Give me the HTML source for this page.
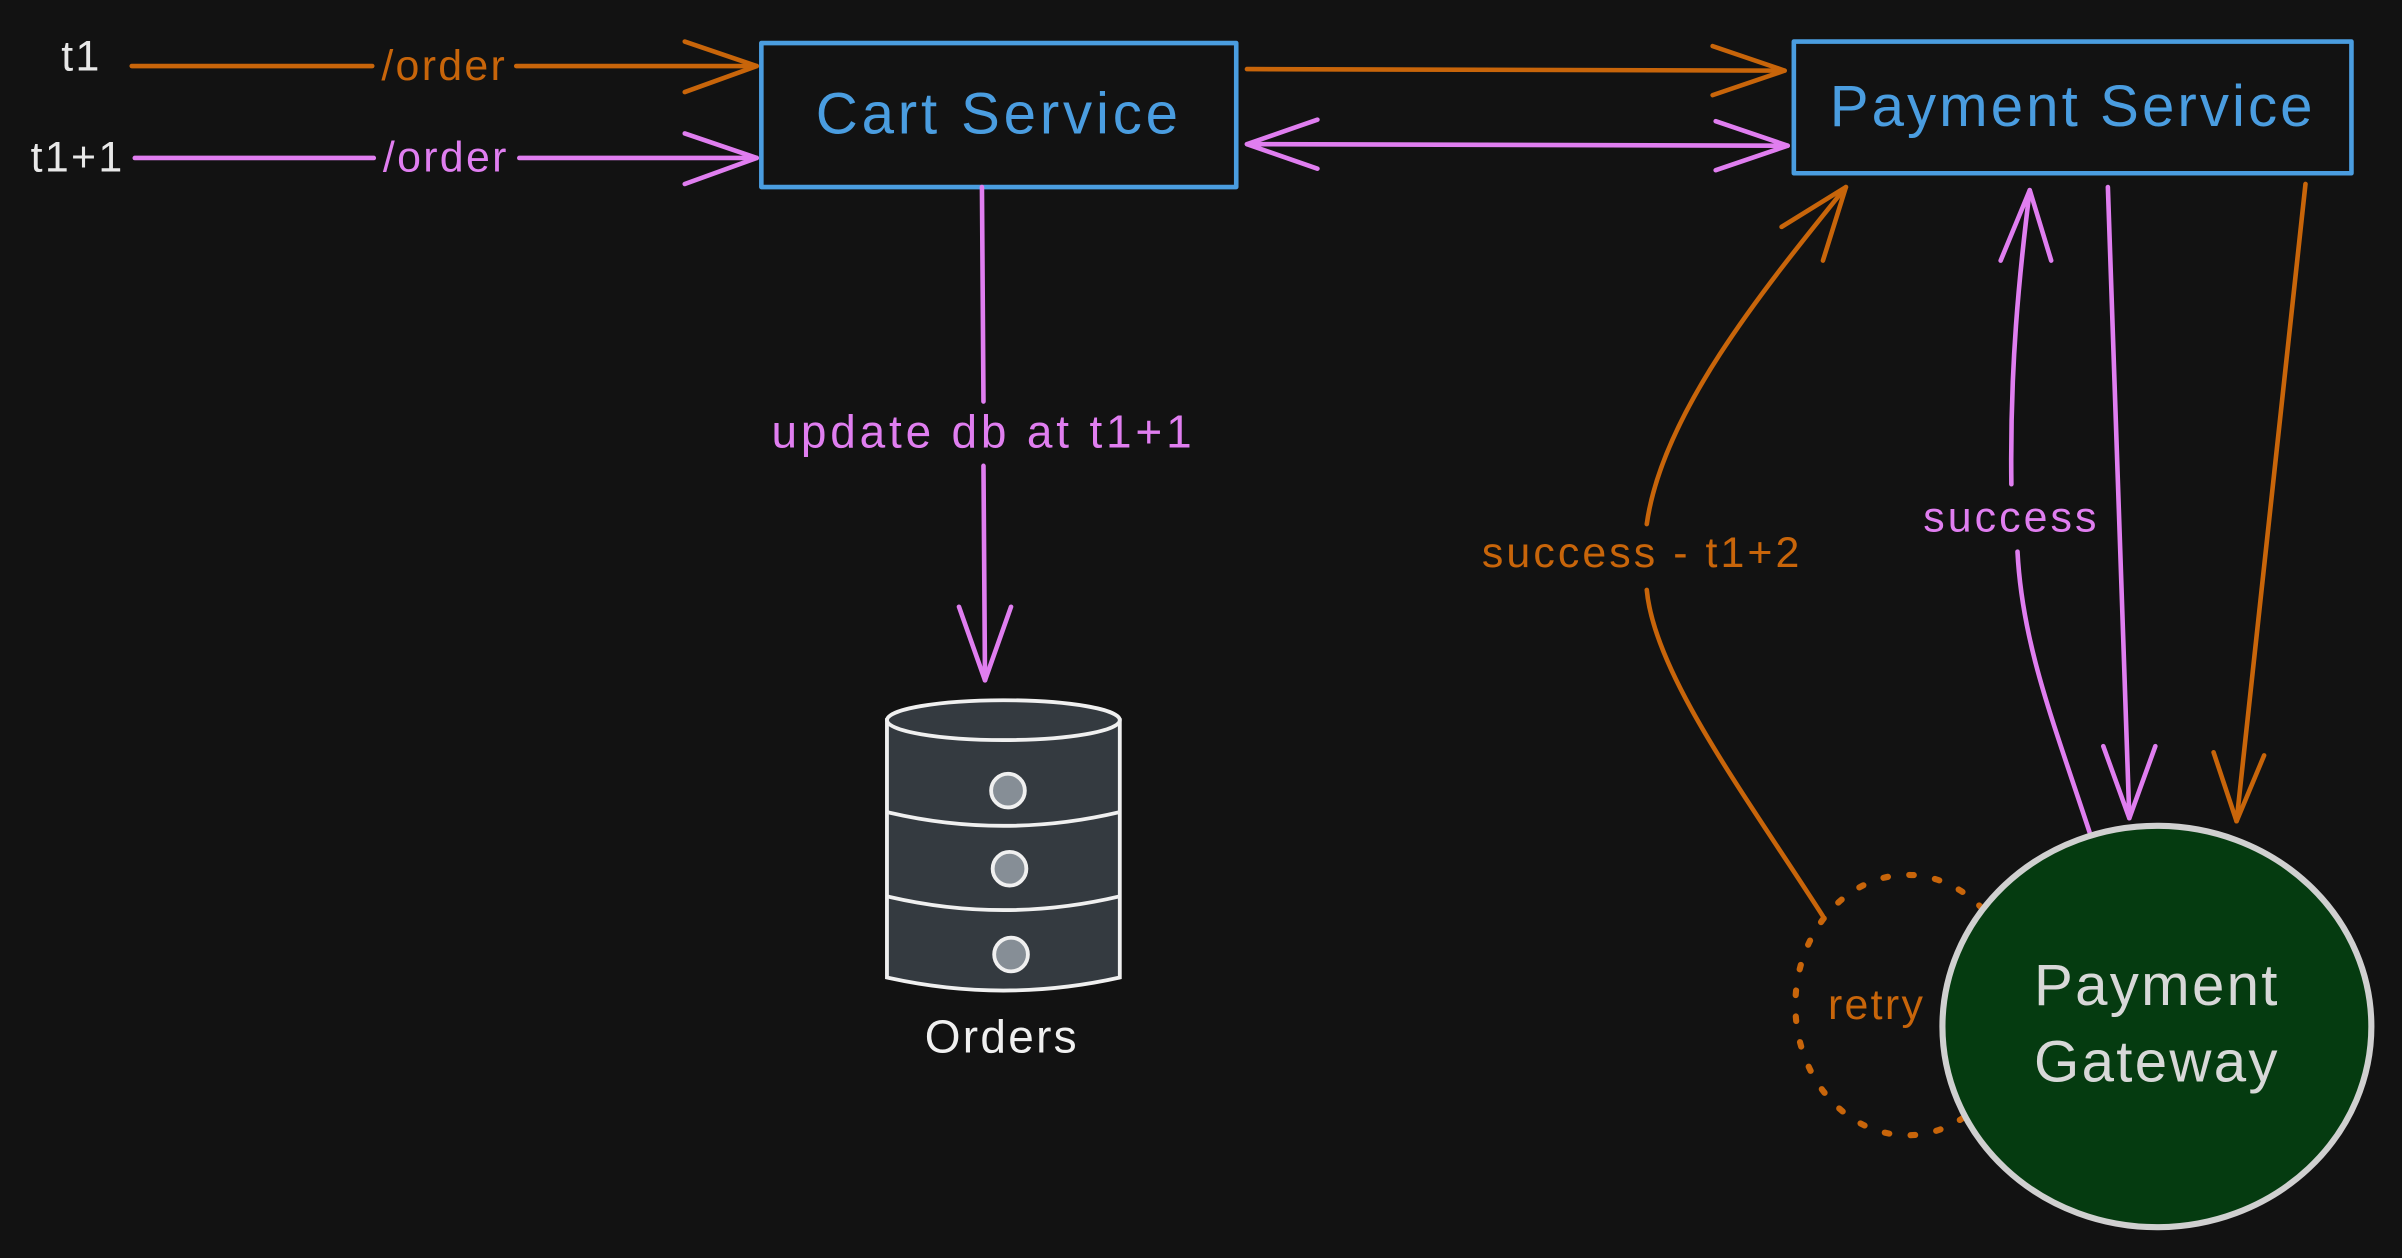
<!DOCTYPE html>
<html><head><meta charset="utf-8"><style>
html,body{margin:0;padding:0;background:#121212;}
svg{display:block;}
text{font-family:"Liberation Sans",sans-serif;}
</style></head><body>
<svg width="2402" height="1258" viewBox="0 0 1568 821" xmlns="http://www.w3.org/2000/svg">
<rect width="1568" height="821" fill="#121212"/>
<g fill="none" stroke-width="3" stroke-linecap="round" stroke-linejoin="round">
<line x1="86" y1="43" x2="243" y2="43" stroke="#c8650a"/>
<line x1="337" y1="43" x2="494" y2="43" stroke="#c8650a"/>
<polyline points="447,27 494,43 447,60" stroke="#c8650a"/>
<line x1="88" y1="103" x2="244" y2="103" stroke="#e07ef0"/>
<line x1="339" y1="103" x2="494" y2="103" stroke="#e07ef0"/>
<polyline points="447,87 494,103 447,120" stroke="#e07ef0"/>
<rect x="497" y="28" width="310" height="94" stroke="#4a9de0"/>
<rect x="1171" y="27" width="364" height="86" stroke="#4a9de0"/>
<line x1="814" y1="45" x2="1165" y2="46" stroke="#c8650a"/>
<polyline points="1118,30 1165,46 1118,62" stroke="#c8650a"/>
<line x1="814" y1="94" x2="1167" y2="95" stroke="#e07ef0"/>
<polyline points="1120,79 1167,95 1120,111" stroke="#e07ef0"/>
<polyline points="860,78 814,94 860,110" stroke="#e07ef0"/>
<line x1="641" y1="122" x2="642" y2="262" stroke="#e07ef0"/>
<line x1="642" y1="304" x2="643" y2="444" stroke="#e07ef0"/>
<polyline points="626,396 643,444 660,396" stroke="#e07ef0"/>
<path d="M1190,598 C1140,520 1080,440 1075,385" stroke="#c8650a"/>
<path d="M1075,342 C1085,270 1150,190 1205,122" stroke="#c8650a"/>
<polyline points="1163,148 1205,122 1190,170" stroke="#c8650a"/>
<path d="M1364,543 C1340,470 1320,420 1317,360" stroke="#e07ef0"/>
<path d="M1313,316 C1312,240 1318,180 1325,124" stroke="#e07ef0"/>
<polyline points="1306,170 1325,124 1339,170" stroke="#e07ef0"/>
<line x1="1376" y1="122" x2="1390" y2="534" stroke="#e07ef0"/>
<polyline points="1373,487 1390,534 1407,487" stroke="#e07ef0"/>
<line x1="1505" y1="120" x2="1460" y2="536" stroke="#c8650a"/>
<polyline points="1445,491 1460,536 1478,493" stroke="#c8650a"/>
<ellipse cx="1245" cy="656" rx="73" ry="85" stroke="#c8650a" stroke-width="4" stroke-dasharray="3 14"/>
</g>
<ellipse cx="1408" cy="670" rx="140" ry="131" fill="#053b10" stroke="#d0d0d0" stroke-width="4"/>
<g stroke="#f0f0f0" stroke-width="2.5">
<path d="M579,470 L579,638 Q655,655 731,638 L731,470 Z" fill="#343a40"/>
<ellipse cx="655" cy="470" rx="76" ry="13" fill="#343a40"/>
<path d="M579,530 Q655,548 731,530" fill="none"/>
<path d="M579,585 Q655,603 731,585" fill="none"/>
<circle cx="658" cy="516" r="11" fill="#868e96"/>
<circle cx="659" cy="567" r="11" fill="#868e96"/>
<circle cx="660" cy="623" r="11" fill="#868e96"/>
</g>
<g font-size="28" letter-spacing="1.5">
<text x="40" y="46" fill="#e8e8e8">t1</text>
<text x="20" y="112" fill="#e8e8e8">t1+1</text>
<text x="290" y="52" fill="#c8650a" text-anchor="middle">/order</text>
<text x="291" y="112" fill="#e07ef0" text-anchor="middle">/order</text>
<text x="642" y="292" fill="#e07ef0" text-anchor="middle" font-size="30" letter-spacing="2.5">update db at t1+1</text>
<text x="1072" y="370" fill="#c8650a" text-anchor="middle" letter-spacing="2">success - t1+2</text>
<text x="1313" y="347" fill="#e07ef0" text-anchor="middle" letter-spacing="2">success</text>
<text x="1225" y="665" fill="#c8650a" text-anchor="middle">retry</text>
<text x="654" y="687" fill="#f0f0f0" text-anchor="middle" font-size="30">Orders</text>
</g>
<text x="652" y="87" fill="#4a9de0" text-anchor="middle" font-size="38" letter-spacing="2.5">Cart Service</text>
<text x="1353" y="82" fill="#4a9de0" text-anchor="middle" font-size="38" letter-spacing="2">Payment Service</text>
<text x="1408" y="656" fill="#d8d8d8" text-anchor="middle" font-size="38" letter-spacing="1.5">Payment</text>
<text x="1408" y="706" fill="#d8d8d8" text-anchor="middle" font-size="38" letter-spacing="1.5">Gateway</text>
</svg>
</body></html>
